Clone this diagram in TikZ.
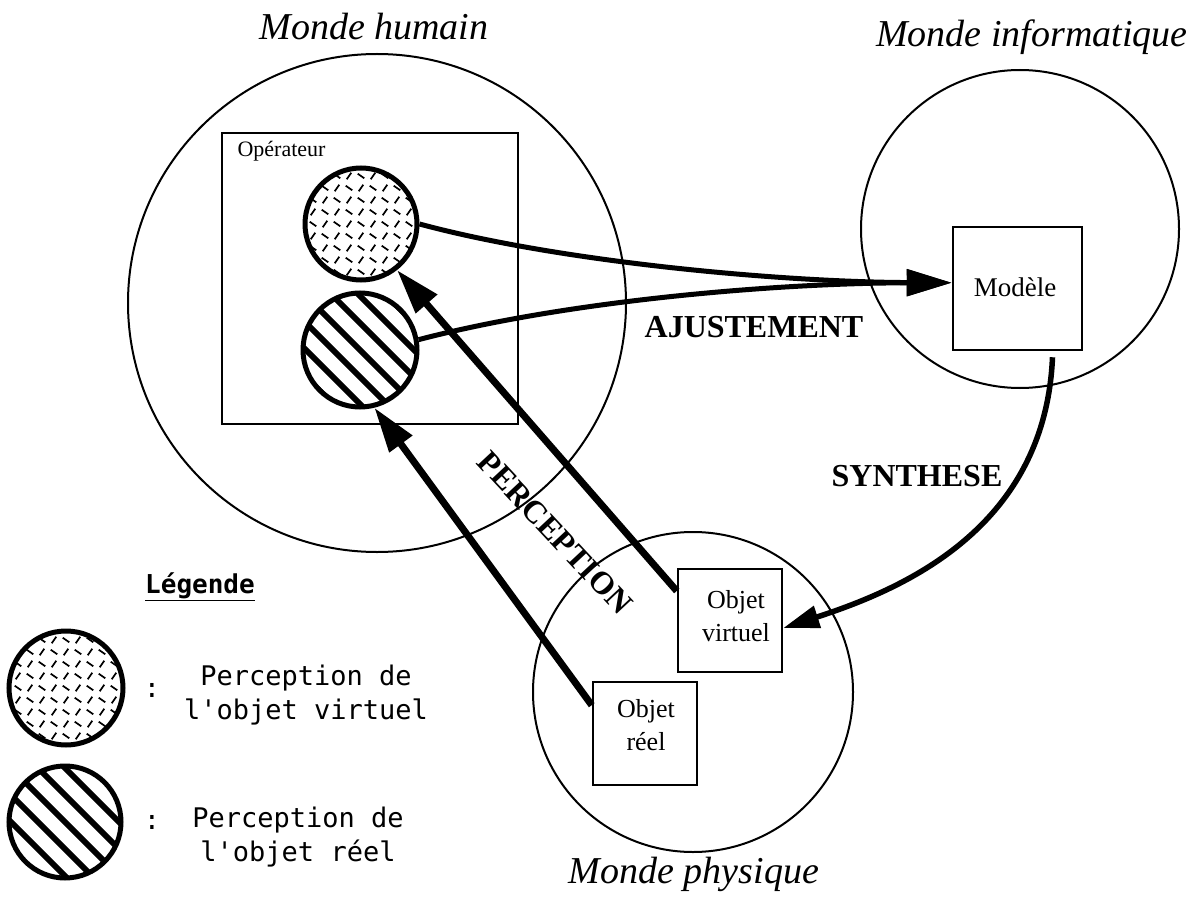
\documentclass[tikz,border=0pt]{standalone}
\usepackage{fontspec}
\setmainfont{Liberation Serif}
\newfontfamily\legfont{DejaVu Sans Mono}
\usetikzlibrary{arrows.meta}
\begin{document}
\begin{tikzpicture}[x=1pt,y=-1pt,
  world/.style={draw, circle, line width=2pt, inner sep=0pt},
  objbox/.style={draw, rectangle, line width=2.5pt, inner sep=0pt, align=center},
  percirc/.style={draw, circle, line width=5pt, inner sep=0pt, minimum size=#1},
  title/.style={font=\fontsize{38}{40}\selectfont\itshape},
  boxtext/.style={font=\fontsize{26}{33}\selectfont, align=center, inner sep=0pt},
  biglabel/.style={font=\fontsize{32}{34}\selectfont\bfseries},
  legtext/.style={font=\legfont\fontsize{27}{34}\selectfont, align=center},
  bigarrow/.style={line width=5pt, -{Triangle[length=45pt,width=26pt]}},
  perarrow/.style={line width=7pt, -{Triangle[length=45pt,width=27pt]}},
]
\useasboundingbox (0,0) rectangle (1197,904);

% worlds
\node[world, minimum size=498pt] (mh) at (377,303) {};
\node[world, minimum size=318pt] (mi) at (1020,229) {};
\node[world, minimum size=320pt] (mp) at (693,692) {};
\node[title] (tmh) at (374,27) {Monde humain};
\node[title] (tmi) at (1032,37) {Monde informatique};
\node[title] (tmp) at (694,874) {Monde physique};

% operator box
\node[objbox, minimum width=296pt, minimum height=291pt] (op) at (370,278.5) {};
\node[font=\fontsize{22}{24}\selectfont, anchor=west] (top) at (234,151) {Opérateur};

% pattern circles (inside operator)
\begin{scope}[shift={(361,224)}]
  \clip (0,0) circle (56);
  \foreach \i in {-6,...,6}{\foreach \j in {-6,...,6}{
    \pgfmathsetmacro\a{mod(\i+\j+24,2)==0 ? 35 : -55}
    \draw[line width=1.7pt] ({\i*12},{\j*12}) ++(\a:4) -- ++(\a+180:8);
  }}
\end{scope}
\node[percirc=112pt] (d) at (361,224) {};
\begin{scope}[shift={(360,350)}]
  \clip (0,0) circle (57);
  \foreach \k in {-5,...,5} \draw[line width=6pt] ({\k*27-90},-90) -- ++(180,180);
\end{scope}
\node[percirc=114pt] (s) at (360,350) {};

% model box
\node[objbox, minimum width=129pt, minimum height=123pt] (m) at (1017.5,288.5) {};
\node[boxtext, font=\fontsize{27}{30}\selectfont] (tm) at (1015,287) {Modèle};

% objects
\node[objbox, minimum width=104pt, minimum height=103pt] (ov) at (730,620.5) {};
\node[boxtext] (tov) at (736,616) {Objet\\virtuel};
\node[objbox, minimum width=104pt, minimum height=103pt] (or) at (645,733.5) {};
\node[boxtext] (tor) at (646,725) {Objet\\réel};

% AJUSTEMENT arrows
\draw[bigarrow] (d.east) .. controls (560,262) and (780,282) .. (m.175);
\draw[bigarrow] (s.10) .. controls (570,300) and (780,283) .. (m.175);
\node[biglabel] (laj) at (754,327) {AJUSTEMENT};

% PERCEPTION arrows
\draw[perarrow] (ov.151) -- (d.-52);
\draw[perarrow] (or.152) -- (s.-76);
\node[biglabel, rotate=-47] (lpe) at (555,533) {PERCEPTION};

% SYNTHESE arrow
\coordinate (syn0) at ([xshift=35pt,yshift=-6pt]m.south);
\draw[line width=5.5pt, -{Triangle[length=36pt,width=22pt]}] (syn0) .. controls (1045,530) and (900,590) .. (ov.-8);
\node[biglabel] (lsy) at (917,476) {SYNTHESE};

% legend
\node[font=\legfont\bfseries\fontsize{26}{28}\selectfont, anchor=base] (leg) at (200,593) {\underline{Légende}};
\begin{scope}[shift={(66,688)}]
  \clip (0,0) circle (57);
  \foreach \i in {-6,...,6}{\foreach \j in {-6,...,6}{
    \pgfmathsetmacro\a{mod(\i+\j+24,2)==0 ? 35 : -55}
    \draw[line width=1.7pt] ({\i*12},{\j*12}) ++(\a:4) -- ++(\a+180:8);
  }}
\end{scope}
\node[percirc=114pt] (l1) at (66,688) {};
\begin{scope}[shift={(65,822)}]
  \clip (0,0) circle (56);
  \foreach \k in {-5,...,5} \draw[line width=6pt] ({\k*27-90},-90) -- ++(180,180);
\end{scope}
\node[percirc=112pt] (l2) at (65,822) {};
\node[legtext] (c1) at (152,690) {:};
\node[legtext] (c2) at (152,822) {:};
\node[legtext] (t1) at (306,695) {Perception de\\l'objet virtuel};
\node[legtext] (t2) at (298,837) {Perception de\\l'objet réel};
\end{tikzpicture}
\end{document}
